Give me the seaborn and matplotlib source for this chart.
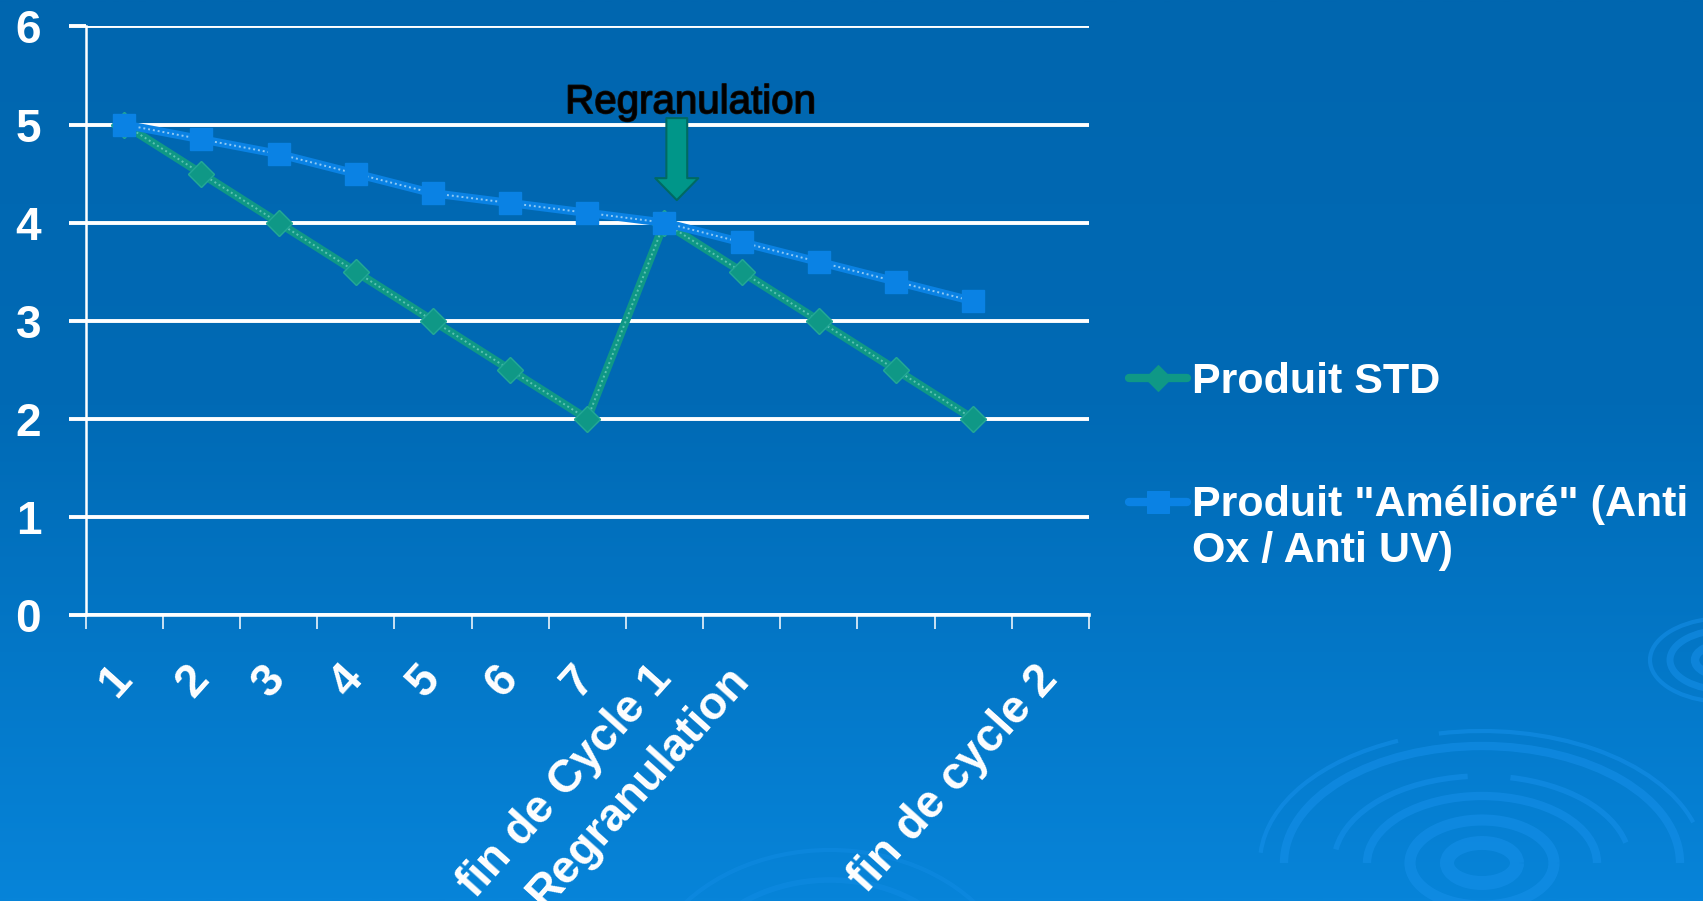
import numpy as np
import pandas as pd
import matplotlib
matplotlib.use("Agg")
import matplotlib.pyplot as plt
import matplotlib.patheffects as pe
import seaborn as sns
from matplotlib.patches import Arc
from matplotlib.colors import LinearSegmentedColormap

# ---------------- data ----------------
categories = ["1", "2", "3", "4", "5", "6", "7", "fin de Cycle 1", "Regranulation",
              "", "", "", "fin de cycle 2"]
std_values = [5.0, 4.5, 4.0, 3.5, 3.0, 2.5, 2.0, 4.0, 3.5, 3.0, 2.5, 2.0]
ameliore_values = [5.0, 4.85, 4.7, 4.5, 4.3, 4.2, 4.1, 4.0, 3.8, 3.6, 3.4, 3.2]
y_ticks = [0, 1, 2, 3, 4, 5, 6]
series_names = ["Produit STD", 'Produit "Amélioré" (Anti\nOx / Anti UV)']
annotation_text = "Regranulation"
annotation_index = 7  # category the arrow points at

# ---------------- style ----------------
sns.set_theme(style="white")
plt.rcParams['font.family'] = ['Liberation Sans', 'DejaVu Sans']

GREEN = '#0F9886'
GREEN_LIGHT = '#6FCDBE'
BLUE = '#0A82E4'
BLUE_LIGHT = '#A8D6F6'

fig = plt.figure(figsize=(17.03, 9.01), dpi=100)

# background gradient + ripples
bg = fig.add_axes([0, 0, 1, 1], zorder=-10)
grad = np.linspace(0, 1, 512)[:, None]
cmap = LinearSegmentedColormap.from_list(
    'bg', [(0.0, '#0066AF'), (0.45, '#006AB5'), (1.0, '#0784D9')])
bg.imshow(grad, aspect='auto', cmap=cmap, extent=[0, 1, 0, 1], origin='upper')
bg.set_xlim(0, 1)
bg.set_ylim(0, 1)
bg.axis('off')

W, H = 1703.0, 901.0


def ripple(cx, cy, rings, color='#1690EA', alpha=0.55):
    for (sw, sh, lw, t1, t2) in rings:
        bg.add_patch(Arc((cx / W, 1 - cy / H), 2 * sw / W, 2 * sh / H,
                         theta1=t1, theta2=t2, lw=lw, color=color, alpha=alpha))


ripple(1482, 863, [(222, 132, 3, 20, 100), (222, 132, 3, 110, 175),
                   (198, 117, 6, 0, 180), (148, 87, 4, 15, 80), (148, 87, 4, 95, 170),
                   (115, 67, 6, 0, 180), (72, 43, 8, 0, 360), (35, 20, 10, 0, 360)])
ripple(1725, 660, [(75, 42, 3, 100, 260), (55, 30, 5, 90, 270), (30, 16, 6, 0, 360)])
ripple(830, 1000, [(190, 150, 3, 40, 140), (150, 120, 4, 50, 130), (110, 90, 3, 60, 120)],
       alpha=0.35)

# main axes
ax = fig.add_axes([0.0503, 0.3174, 0.5891, 0.6532])
ax.patch.set_alpha(0)

df_std = pd.DataFrame({'pos': np.arange(len(std_values)), 'val': std_values})
df_ame = pd.DataFrame({'pos': np.arange(len(ameliore_values)), 'val': ameliore_values})

sns.lineplot(data=df_std, x='pos', y='val', ax=ax, color=GREEN, lw=6, marker='D',
             markersize=13, markeredgecolor=GREEN, label=series_names[0], zorder=3)
ax.plot(df_std['pos'], df_std['val'], color=GREEN_LIGHT, lw=1.4, ls=(0, (1, 1.5)),
        alpha=0.8, zorder=3.2)
ax.plot(df_std['pos'], df_std['val'], ls='none', marker='D', markersize=13,
        color=GREEN, markeredgecolor='#23A896', zorder=3.4)

sns.lineplot(data=df_ame, x='pos', y='val', ax=ax, color=BLUE, lw=6, marker='s',
             markersize=15.5, markeredgecolor=BLUE, label=series_names[1], zorder=4)
ax.plot(df_ame['pos'], df_ame['val'], color=BLUE_LIGHT, lw=1.4, ls=(0, (1, 1.5)),
        alpha=0.85, zorder=4.2)
ax.plot(df_ame['pos'], df_ame['val'], ls='none', marker='s', markersize=15.5,
        color=BLUE, markeredgecolor=BLUE, zorder=4.4)

ax.set_xlim(-0.5, len(categories) - 0.5)
ax.set_ylim(y_ticks[0], y_ticks[-1])
ax.set_xlabel('')
ax.set_ylabel('')

# x axis: labels at category centres, tick marks at boundaries
ax.set_xticks(np.arange(len(categories)))
ax.set_xticklabels(categories, rotation=48, ha='right', va='center',
                   rotation_mode='anchor', fontsize=33, fontweight='bold', color='white')
ax.set_xticks(np.arange(-0.5, len(categories), 1.0), minor=True)
ax.tick_params(axis='x', which='major', bottom=True, length=0, pad=41)
ax.tick_params(axis='x', which='minor', bottom=True, length=10, width=1.1,
               color='white', direction='out')

ax.set_yticks(y_ticks)
ax.set_yticklabels([str(v) for v in y_ticks], fontsize=33, fontweight='bold', color='white')
ax.tick_params(axis='y', which='major', left=True, length=12, width=2.8,
               color='white', direction='out', pad=20)

ax.yaxis.grid(True, color='white', lw=2.8)
ax.xaxis.grid(False)
ax.set_axisbelow(True)

for s in ['top', 'right']:
    ax.spines[s].set_visible(False)
ax.spines['left'].set_color('white')
ax.spines['left'].set_linewidth(1.8)
ax.spines['bottom'].set_color('white')
ax.spines['bottom'].set_linewidth(2.6)

# annotation: text + block arrow
ax.text(annotation_index + 0.34, 5.117, annotation_text, ha='center', va='baseline',
        fontsize=29, color='black', zorder=6,
        path_effects=[pe.withStroke(linewidth=1.2, foreground='#111111')])
ax.annotate('', xy=(annotation_index + 0.16, 4.23), xytext=(annotation_index + 0.16, 5.066),
            arrowprops=dict(arrowstyle='simple,head_length=15.8,head_width=31,tail_width=15',
                            mutation_scale=1, fc='#009689', ec='#006A62', lw=1.5,
                            shrinkA=0, shrinkB=0),
            annotation_clip=False, zorder=6)

# legend
handles, labels = ax.get_legend_handles_labels()
ax.get_legend().remove()
leg = fig.legend(handles, labels, loc='upper left', bbox_to_anchor=(0.663, 0.598),
                 frameon=False, prop={'weight': 'bold', 'size': 31},
                 labelcolor='white', handlelength=1.35, handletextpad=0.12,
                 labelspacing=1.93, borderaxespad=0, borderpad=0, numpoints=1)
lines = leg.get_lines()
yd = np.asarray(lines[1].get_ydata(), dtype=float)
lines[1].set_ydata(yd + 19)

fig.savefig('out.png', dpi=100)
